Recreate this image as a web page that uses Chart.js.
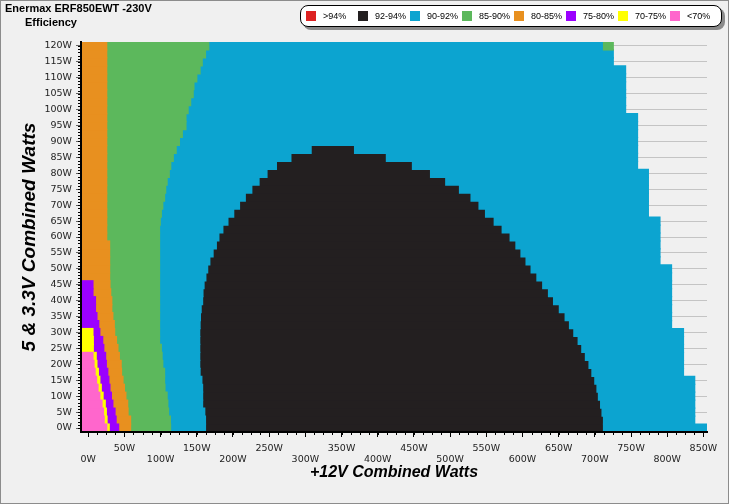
<!DOCTYPE html>
<html>
<head>
<meta charset="utf-8">
<script src="https://cdn.jsdelivr.net/npm/chart.js@4.4.1/dist/chart.umd.min.js"></script>
<style>
  html,body{margin:0;padding:0;background:#f0f0f0;}
  #wrap{position:relative;width:729px;height:504px;overflow:hidden;font-family:"Liberation Sans",Arial,sans-serif;}
  #chart{position:absolute;left:0;top:0;}
  #frame{position:absolute;left:0;top:0;width:729px;height:504px;box-sizing:border-box;border:1px solid #8c8c8c;pointer-events:none;}
  .ttl{position:absolute;font-weight:bold;font-size:11px;color:#000;white-space:nowrap;}
  #legend{position:absolute;left:300px;top:5px;width:420px;height:20px;background:#fff;border:1px solid #000;border-radius:8px;box-shadow:3px 3px 0 #8a8a8a;}
  .item{position:absolute;top:5px;height:10px;font-size:9px;line-height:10px;white-space:nowrap;color:#000;}
  .sw{position:absolute;left:0;top:0;width:10px;height:10px;}
  .lb{position:absolute;left:17px;top:0;}
</style>
</head>
<body>
<div id="wrap">
  <canvas id="chart" width="729" height="504"></canvas>
  <div class="ttl" style="left:5px;top:2px;">Enermax ERF850EWT -230V</div>
  <div class="ttl" style="left:25px;top:16px;">Efficiency</div>
  <div id="legend"></div>
  <div id="frame"></div>
</div>
<script>
// rows of the map: 5V & 3.3V combined load (W)
const rowWatts = [0,2.5,5,7.5,10,12.5,15,17.5,20,22.5,25,27.5,30,32.5,35,37.5,40,42.5,45,47.5,50,52.5,55,57.5,60,62.5,65,67.5,70,72.5,75,77.5,80,82.5,85,87.5,90,92.5,95,97.5,100,102.5,105,107.5,110,112.5,115,117.5,120];

// +12V load (W) where each efficiency band ends, row by row (missing = band not present)
const pinkEnd   = [25.5,22,21,19,16,13.5,11.5,9.5,8,6.5];
const yellowEnd = [29,26,25,23.5,20.5,18,16,14,12,11,7,7,6.5];
const purpleEnd = [42,38.5,37,34,32,30,28.5,27,25,24,21.5,20,16,14.5,12,10,10,6.5,6.5];
const orangeEnd = [58.5,58.5,55,54.5,52,50,48,46,45.5,43,41,39,36.5,36,34,32.5,32.5,31,30,29.5,29.5,29.5,29.5,29.5,
                   25.5,25.5,25.5,25.5,25.5,25.5,25.5,25.5,25.5,25.5,25.5,25.5,25.5,25.5,25.5,25.5,25.5,25.5,25.5,25.5,25.5,25.5,25.5,25.5,25.5];
const greenEnd  = [113.8,113.5,111,110,109,106,105.5,105.5,103,102,101,
                   98.5,98.5,98.5,98.5,98.5,98.5,98.5,98.5,98.5,98.5,98.5,98.5,98.5,98.5,98.5,
                   99.5,101,103,105.5,107,109,112,114,117.5,121.5,126,130,135,135,138,141.5,145,146,150,154.5,157.5,162,166.5];
const blackStart = [162,162,161,158,158,158,157,154.5,154,154,154,154,154,154.5,155,156,158,158.5,160,162.5,165,168,172.5,177,180.5,186,193,201,209,217,226,236,247,260,280,308];
const blackEnd   = [712,712,710,708,705,703,700,696,692,687,682,677,671,665,659,651,643,636,628,620,612,605,598,591,583,572,561,549,540,529,513,494,473,448,412,368];
const blueEnd   = [855,838,838,838,838,838,838,822.5,822.5,822.5,822.5,822.5,822.5,806,806,806,806,806,806,806,806,
                   790,790,790,790,790,790,774,774,774,774,774,774,759,759,759,759,759,759,759,742.5,742.5,742.5,742.5,742.5,742.5,725.5,725.5,712];
// small 85-90% patch after the blue area on the top row
const greenTipRow = [120];
const greenTipEnd = [725.5];

const legendLabels = ['>94%','92-94%','90-92%','85-90%','80-85%','75-80%','70-75%','<70%'];
const legendColors = ['#dd2222','#231f20','#0ca4d0','#5cb85c','#e8901f','#9b00ff','#ffff00','#ff66cc'];

const X_MIN = -10, X_MAX = 855;

// legend
const legendEl = document.getElementById('legend');
legendLabels.forEach((t,i)=>{
    legendEl.innerHTML += `<div class="item" style="left:${5+i*52}px"><div class="sw" style="background:${legendColors[i]}"></div><div class="lb">${t}</div></div>`;
});

// build floating bar segments
const seg = {pink:[],yellow:[],purple:[],orange:[],green:[],blue:[],black:[]};
rowWatts.forEach((w,i)=>{
    let start = X_MIN;
    [['pink',pinkEnd],['yellow',yellowEnd],['purple',purpleEnd],['orange',orangeEnd],['green',greenEnd]].forEach(([k,arr])=>{
        if(arr[i]!==undefined){
            seg[k].push({y:w, x:[start,arr[i]]});
            start = arr[i];
        }
    });
    if(blackStart[i]!==undefined){
        seg.blue.push({y:w, x:[start,blackStart[i]]});
        seg.black.push({y:w, x:[blackStart[i],blackEnd[i]]});
        seg.blue.push({y:w, x:[blackEnd[i],blueEnd[i]]});
    }else{
        seg.blue.push({y:w, x:[start,blueEnd[i]]});
    }
});
greenTipRow.forEach((w,j)=>{
    const i = rowWatts.indexOf(w);
    seg.green.push({y:w, x:[blueEnd[i],greenTipEnd[j]]});
});

const ds = (k,color)=>({data:seg[k], backgroundColor:color, borderWidth:0, inflateAmount:0.6, barPercentage:1, categoryPercentage:1});

const minorTicks = {
    id:'minorTicks',
    afterDraw(chart){
        const {ctx, chartArea:a, scales:{x,y}} = chart;
        ctx.save();
        ctx.strokeStyle = '#000';
        ctx.lineWidth = 1;
        ctx.beginPath();
        for(let v=0; v<=120; v+=1){
            const py = Math.round(y.getPixelForValue(v))+0.5;
            ctx.moveTo(a.left-3,py); ctx.lineTo(a.left,py);
        }
        for(let v=0; v<=850; v+=12.5){
            const px = Math.round(x.getPixelForValue(v))+0.5;
            ctx.moveTo(px,a.bottom); ctx.lineTo(px,a.bottom+3);
        }
        ctx.stroke();
        ctx.restore();
    }
};

new Chart(document.getElementById('chart'),{
    type:'bar',
    data:{
        datasets:[
            ds('pink',legendColors[7]),
            ds('yellow',legendColors[6]),
            ds('purple',legendColors[5]),
            ds('orange',legendColors[4]),
            ds('green',legendColors[3]),
            ds('blue',legendColors[2]),
            ds('black',legendColors[1])
        ]
    },
    options:{
        indexAxis:'y',
        responsive:false,
        animation:false,
        layout:{padding:{top:42,right:22,left:0,bottom:0}},
        plugins:{legend:{display:false}, tooltip:{enabled:false}},
        scales:{
            x:{
                type:'linear', min:X_MIN, max:X_MAX, stacked:false, offset:false,
                afterFit:s=>{ s.height = 72; },
                ticks:{
                    stepSize:50, includeBounds:false, autoSkip:false, maxRotation:0, padding:6,
                    color:'#222', font:{family:'DejaVu Sans', size:9.5, lineHeight:1.16},
                    callback:v=> (Math.round(v/50)%2) ? [v+'W'] : ['', v+'W']
                },
                grid:{drawOnChartArea:false, drawTicks:true, tickLength:5, tickColor:'#000', offset:false},
                border:{display:true, color:'#000', width:2, z:1},
                title:{display:true, text:'+12V Combined Watts', color:'#000',
                       font:{family:'Liberation Sans', size:16, weight:'bold', style:'italic'},
                       padding:{top:0,bottom:22}}
            },
            y:{
                type:'linear', min:-1.25, max:121.25, stacked:true, offset:false,
                afterFit:s=>{ s.width = 81; },
                ticks:{
                    stepSize:5, includeBounds:false, padding:4,
                    color:'#222', font:{family:'DejaVu Sans', size:9.5},
                    callback:v=> v+'W'
                },
                grid:{color:'#c4c4c4', lineWidth:1, drawTicks:true, tickLength:5, tickColor:'#666', offset:false},
                border:{display:true, color:'#000', width:2, z:1},
                title:{display:true, text:'5 & 3.3V Combined Watts', color:'#000',
                       font:{family:'Liberation Sans', size:19, weight:'bold', style:'italic'},
                       padding:{top:18,bottom:0}}
            }
        }
    },
    plugins:[minorTicks]
});
</script>
</body>
</html>
